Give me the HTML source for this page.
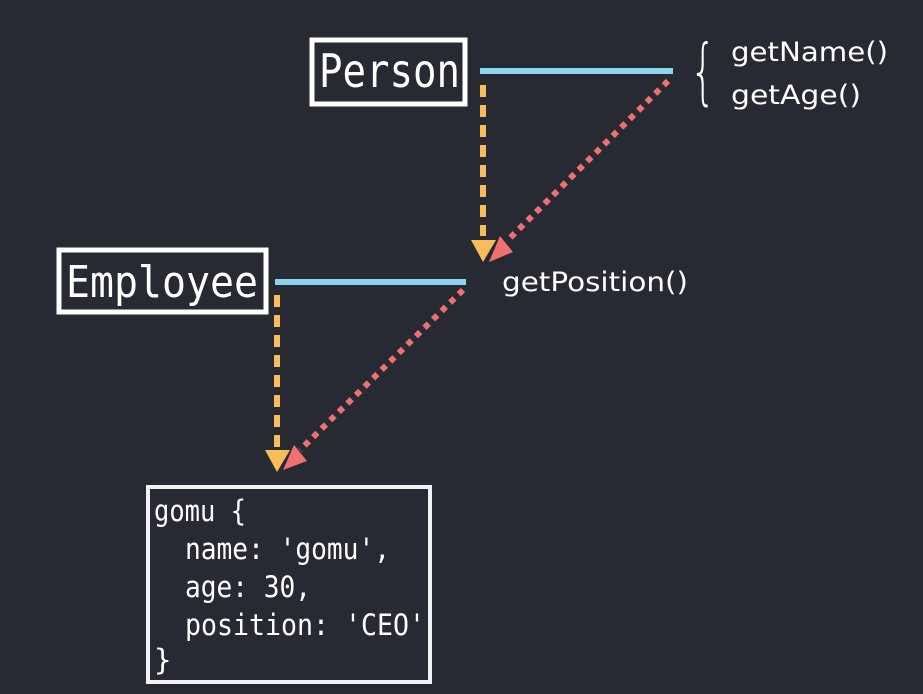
<!DOCTYPE html>
<html><head><meta charset="utf-8"><style>
html,body{margin:0;padding:0;background:#282a33;}
svg{display:block}
.m{font-family:"DejaVu Sans Mono","Liberation Mono",monospace;fill:#fff}
.s{font-family:"DejaVu Sans","Liberation Sans",sans-serif;fill:#fff}
</style></head><body>
<svg width="923" height="694" viewBox="0 0 923 694" xmlns="http://www.w3.org/2000/svg">
<rect width="923" height="694" fill="#282a33"/>
<rect x="312" y="40" width="153" height="64" fill="none" stroke="#fff" stroke-width="5"/>
<text x="319" y="87" class="m" font-size="46" textLength="141" lengthAdjust="spacingAndGlyphs">Person</text>
<line x1="480" y1="71" x2="673" y2="71" stroke="#8dd4f0" stroke-width="6"/>
<text x="690" y="96" class="s" font-size="72" font-weight="300" textLength="26" lengthAdjust="spacingAndGlyphs">{</text>
<text x="731" y="61" class="s" font-size="27" textLength="157" lengthAdjust="spacingAndGlyphs">getName()</text>
<text x="731" y="104" class="s" font-size="27" textLength="130" lengthAdjust="spacingAndGlyphs">getAge()</text>
<line x1="483" y1="85" x2="483" y2="236" stroke="#f8bd5a" stroke-width="6" stroke-dasharray="12,8"/>
<polygon points="471,240 496,240 483,262" fill="#f8bd5a"/>
<line x1="668" y1="81" x2="508" y2="240" stroke="#f07070" stroke-width="6" stroke-dasharray="6,6"/>
<polygon points="489,262 500,236 513,252" fill="#f07070"/>
<rect x="59" y="250" width="207" height="62" fill="none" stroke="#fff" stroke-width="5"/>
<text x="66" y="297" class="m" font-size="44" textLength="192" lengthAdjust="spacingAndGlyphs">Employee</text>
<line x1="275" y1="282" x2="466" y2="282" stroke="#8dd4f0" stroke-width="6"/>
<text x="502" y="291" class="s" font-size="27" textLength="186" lengthAdjust="spacingAndGlyphs">getPosition()</text>
<line x1="277" y1="295" x2="277" y2="447" stroke="#f8bd5a" stroke-width="6" stroke-dasharray="12,8"/>
<polygon points="265,450 290,450 277,472" fill="#f8bd5a"/>
<line x1="463" y1="290" x2="300" y2="450" stroke="#f07070" stroke-width="6" stroke-dasharray="6,6"/>
<polygon points="283,470 294,445 307,461" fill="#f07070"/>
<rect x="148" y="487" width="282" height="195" fill="none" stroke="#f2f2f2" stroke-width="4"/>
<text class="m" font-size="29">
<tspan x="154" y="521" textLength="92" lengthAdjust="spacingAndGlyphs">gomu {</tspan>
<tspan x="185" y="559" textLength="205" lengthAdjust="spacingAndGlyphs">name: 'gomu',</tspan>
<tspan x="185" y="597" textLength="126" lengthAdjust="spacingAndGlyphs">age: 30,</tspan>
<tspan x="185" y="635" textLength="240" lengthAdjust="spacingAndGlyphs">position: 'CEO'</tspan>
<tspan x="154" y="670">}</tspan>
</text>
</svg>
</body></html>
